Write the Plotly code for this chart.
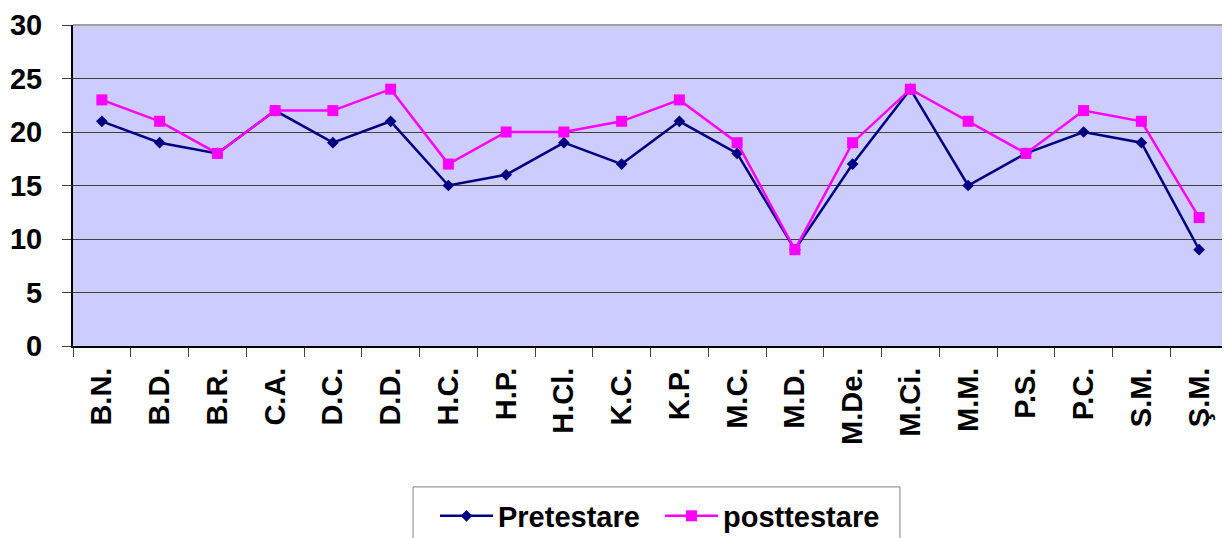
import plotly.graph_objects as go

categories = ["B.N.", "B.D.", "B.R.", "C.A.", "D.C.", "D.D.", "H.C.", "H.P.", "H.Cl.", "K.C.",
              "K.P.", "M.C.", "M.D.", "M.De.", "M.Ci.", "M.M.", "P.S.", "P.C.", "S.M.", "Ş.M."]
pretestare = [21, 19, 18, 22, 19, 21, 15, 16, 19, 17, 21, 18, 9, 17, 24, 15, 18, 20, 19, 9]
posttestare = [23, 21, 18, 22, 22, 24, 17, 20, 20, 21, 23, 19, 9, 19, 24, 21, 18, 22, 21, 12]
y_ticks = [0, 5, 10, 15, 20, 25, 30]

FONT = "Arial, 'Liberation Sans', sans-serif"

fig = go.Figure()
fig.add_trace(go.Scatter(
    x=categories, y=pretestare, name="Pretestare", mode="lines+markers",
    line=dict(color="#000080", width=2.5),
    marker=dict(symbol="diamond", size=9, color="#000080"),
))
fig.add_trace(go.Scatter(
    x=categories, y=posttestare, name="posttestare", mode="lines+markers",
    line=dict(color="#FF00FF", width=2.5),
    marker=dict(symbol="square", size=11, color="#FF00FF"),
))

# page body has an 8px margin, so the figure is sized/offset to compensate
fig.update_layout(
    width=1222, height=530,
    margin=dict(l=65, r=2, t=17, b=192, autoexpand=False),
    paper_bgcolor="white",
    plot_bgcolor="#CCCCFF",
    font=dict(family=FONT, color="black"),
    showlegend=True,
    legend=dict(
        orientation="h", x=0.3134, xanchor="left", y=-0.45, yanchor="top",
        borderwidth=0, bgcolor="rgba(0,0,0,0)",
        font=dict(size=29, family=FONT, weight="bold"),
        itemwidth=53, tracegroupgap=0,
        entrywidth=157, entrywidthmode="pixels",
    ),
)
fig.update_xaxes(
    type="category", range=[-0.5, len(categories) - 0.5],
    tickangle=-90, tickfont=dict(size=29, family=FONT, weight="bold"),
    ticks="outside", tickson="boundaries", ticklen=9, tickcolor="#404040",
    ticklabelstandoff=8,
    showline=True, linecolor="black", linewidth=2, mirror=False,
    showgrid=False, zeroline=False,
)
fig.update_yaxes(
    range=[0, 30], tickvals=y_ticks,
    tickfont=dict(size=29, family=FONT, weight="bold"),
    ticks="outside", ticklen=9, tickcolor="#404040",
    ticklabelstandoff=14,
    showline=True, linecolor="black", linewidth=2,
    showgrid=True, gridcolor="#404040", gridwidth=1, zeroline=False,
)
# gray frame on top and right of plot area
fig.add_shape(type="line", xref="paper", yref="paper", x0=0, x1=1, y0=1, y1=1,
              line=dict(color="#A0A0A0", width=2))
fig.add_shape(type="line", xref="paper", yref="paper", x0=1, x1=1, y0=0, y1=1,
              line=dict(color="#A0A0A0", width=2))
# legend frame (extends below the page edge, as in the reference)
fig.add_shape(type="rect", xref="paper", yref="paper", x0=0.2944, x1=0.716, y0=-0.439, y1=-0.75,
              line=dict(color="#808080", width=1), fillcolor="rgba(0,0,0,0)")

fig.write_html("out.html")
